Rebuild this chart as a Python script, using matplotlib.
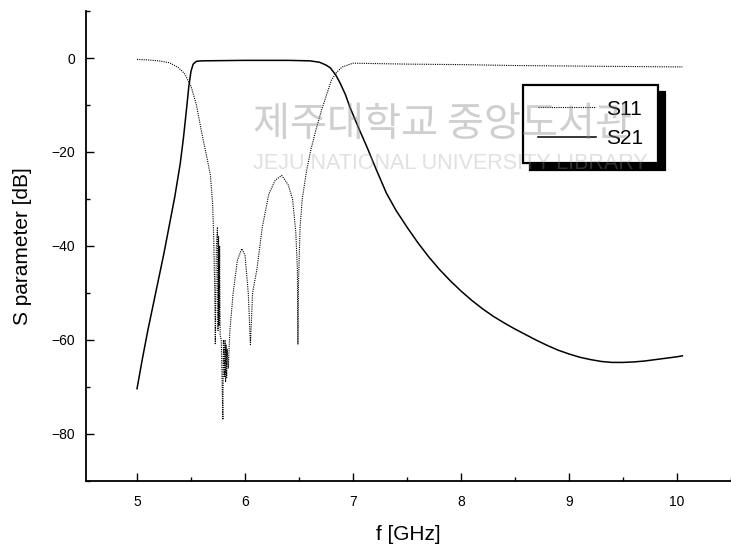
import matplotlib
matplotlib.use('Agg')
import matplotlib.pyplot as plt
from matplotlib.ticker import MultipleLocator

plt.rcParams['font.family'] = ['Liberation Sans', 'DejaVu Sans']

# S11 (dotted)
f_s11 = [5.00, 5.10, 5.20, 5.30, 5.38, 5.44, 5.50, 5.55, 5.60, 5.65, 5.68, 5.70,
         5.71, 5.72, 5.725, 5.735, 5.745, 5.75, 5.755, 5.76, 5.765, 5.77, 5.78,
         5.795, 5.80, 5.81, 5.815, 5.82, 5.825, 5.83, 5.835, 5.845, 5.86, 5.89,
         5.93, 5.97, 6.00, 6.03, 6.05, 6.07, 6.11, 6.16, 6.22, 6.28, 6.34, 6.40,
         6.44, 6.47, 6.485, 6.49, 6.495, 6.51, 6.53, 6.57, 6.61, 6.66, 6.71, 6.76,
         6.80, 6.85, 6.90, 7.00, 7.50, 8.00, 8.50, 9.00, 9.50, 10.05]
s11 = [-0.3, -0.4, -0.6, -1.0, -2.0, -3.3, -6.0, -10.0, -16.0, -21.5, -25.0, -31.0,
       -38.0, -50.0, -61.0, -40.0, -36.0, -58.0, -38.0, -57.0, -40.0, -59.0, -60.0,
       -77.0, -60.0, -68.0, -60.0, -69.0, -61.0, -68.0, -62.0, -66.0, -58.0, -50.0,
       -43.0, -40.6, -42.0, -50.0, -61.0, -50.0, -45.0, -36.0, -29.0, -26.0, -25.0, -27.0,
       -30.0, -37.0, -45.0, -61.0, -48.0, -36.0, -30.0, -24.0, -19.5, -15.0, -11.0, -7.5,
       -4.7, -3.0, -1.9, -1.1, -1.3, -1.4, -1.6, -1.7, -1.8, -1.9]

# S21 (solid)
f_s21 = [5.00, 5.05, 5.10, 5.15, 5.20, 5.25, 5.30, 5.35, 5.40, 5.43, 5.46, 5.48,
         5.50, 5.52, 5.55, 5.60, 6.00, 6.40, 6.60, 6.69, 6.75, 6.79, 6.84, 6.88,
         6.93, 6.97, 7.05, 7.13, 7.22, 7.31, 7.40, 7.50, 7.60, 7.70, 7.80, 7.90,
         8.00, 8.10, 8.20, 8.30, 8.40, 8.50, 8.60, 8.70, 8.80, 8.90, 9.00, 9.10,
         9.20, 9.30, 9.40, 9.50, 9.60, 9.70, 9.80, 9.90, 10.00, 10.05]
s21 = [-70.4, -64.0, -58.0, -52.5, -47.0, -41.5, -35.5, -29.5, -22.5, -17.0, -10.5, -6.0,
       -2.8, -1.3, -0.7, -0.6, -0.5, -0.5, -0.6, -0.9, -1.5, -2.1, -3.6, -5.3,
       -7.8, -10.4, -14.8, -19.0, -24.0, -28.8, -32.5, -36.0, -39.3, -42.3, -45.0, -47.4,
       -49.6, -51.6, -53.4, -55.0, -56.4, -57.7, -58.9, -60.1, -61.2, -62.2, -63.0, -63.7,
       -64.2, -64.6, -64.8, -64.8, -64.7, -64.5, -64.2, -63.9, -63.6, -63.4]

fig = plt.figure(figsize=(7.31, 5.52), dpi=100)
ax = fig.add_axes([0.118, 0.129, 0.882, 0.851])

ax.plot(f_s11, s11, color='black', lw=0.8, linestyle=(0, (1, 1)), label='S11')
ax.plot(f_s21, s21, color='black', lw=1.1, label='S21')

ax.set_xlim(4.53, 10.5)
ax.set_ylim(-90, 10)
ax.xaxis.set_major_locator(MultipleLocator(1))
ax.xaxis.set_minor_locator(MultipleLocator(0.5))
ax.yaxis.set_major_locator(MultipleLocator(20))
ax.yaxis.set_minor_locator(MultipleLocator(10))
ax.tick_params(which='both', direction='in', width=1, labelsize=10)
ax.tick_params(which='major', length=6)
ax.tick_params(which='minor', length=3)
ax.tick_params(axis='x', pad=10)
ax.tick_params(axis='y', pad=8)

for side in ['top', 'right']:
    ax.spines[side].set_visible(False)
for side in ['left', 'bottom']:
    ax.spines[side].set_linewidth(1.3)

ax.set_xlabel('f [GHz]', fontsize=15, labelpad=12)
ax.set_ylabel('S parameter [dB]', fontsize=15, labelpad=14)

leg = ax.legend(loc='upper left', bbox_to_anchor=(523 / 731, 1 - 85 / 552),
                bbox_transform=fig.transFigure, borderaxespad=0, fontsize=15,
                frameon=True, fancybox=False, edgecolor='black', framealpha=1,
                handlelength=2.8, handletextpad=0.5, labelspacing=0.5,
                borderpad=0.7, shadow={'ox': 5, 'oy': -5, 'shade': 1.0, 'alpha': 1})
leg.get_frame().set_linewidth(1.6)

# faint library watermark lying over the scan
fig.text(0.346, 0.775, '제주대학교 중앙도서관', family=['Noto Sans CJK KR', 'DejaVu Sans'],
         fontsize=29, color='#888888', alpha=0.4, va='center', ha='left')
fig.text(0.346, 0.703, 'JEJU NATIONAL UNIVERSITY LIBRARY', fontsize=15.5,
         color='#999999', alpha=0.3, va='center', ha='left')

fig.savefig('out.png', dpi=100)
